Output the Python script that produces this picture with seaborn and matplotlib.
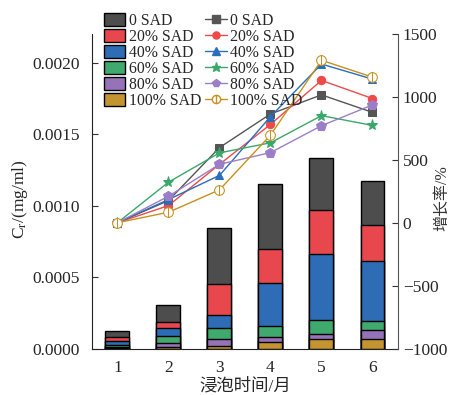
import numpy as np
import pandas as pd
import matplotlib
matplotlib.use("Agg")
import matplotlib.pyplot as plt
from matplotlib.patches import Patch
from matplotlib.lines import Line2D
from matplotlib.path import Path
import seaborn as sns

# data
months = [1, 2, 3, 4, 5, 6]
labels = ["0 SAD", "20% SAD", "40% SAD", "60% SAD", "80% SAD", "100% SAD"]

# Cr (mg/ml) per group, stacked bars
cr_0 = [0.000044, 0.000118, 0.000389, 0.000454, 0.000359, 0.000313]
cr_20 = [0.000026, 0.000040, 0.000220, 0.000241, 0.000313, 0.000252]
cr_40 = [0.000030, 0.000056, 0.000088, 0.000301, 0.000463, 0.000419]
cr_60 = [0.000014, 0.000051, 0.000074, 0.000076, 0.000095, 0.000063]
cr_80 = [0.000004, 0.000026, 0.000051, 0.000035, 0.000032, 0.000060]
cr_100 = [0.000004, 0.000012, 0.000018, 0.000046, 0.000069, 0.000067]

# growth rate (%)
gr_0 = [0, 176, 597, 864, 1016, 877]
gr_20 = [0, 136, 464, 781, 1131, 987]
gr_40 = [0, 184, 376, 843, 1261, 1141]
gr_60 = [0, 322, 555, 635, 851, 773]
gr_80 = [0, 210, 464, 557, 771, 936]
gr_100 = [0, 83, 261, 696, 1291, 1157]

bar_colors = ["#4d4d4d", "#e8474e", "#2e6db5", "#3fa96e", "#9673b9", "#c49431"]
line_colors = ["#555555", "#ef4a4a", "#2a6ebb", "#3aa86b", "#9b7ec8", "#c8901f"]

sns.set_style("ticks")
plt.rcParams['font.family'] = ['Liberation Serif', 'Noto Sans CJK SC', 'DejaVu Sans']
plt.rcParams['mathtext.fontset'] = 'stix'
plt.rcParams['axes.unicode_minus'] = True

fig = plt.figure(figsize=(4.52, 3.95), dpi=100)
ax = fig.add_axes([0.2035, 0.1177, 0.677, 0.7963])

# stacked bars: draw cumulative totals from top group down
cr_all = [cr_0, cr_20, cr_40, cr_60, cr_80, cr_100]
bottom_up = cr_all[::-1]
cum = np.cumsum(np.array(bottom_up), axis=0)
cols_bottom_up = bar_colors[::-1]
for i in range(len(cum) - 1, -1, -1):
    df = pd.DataFrame({"month": months, "cr": cum[i]})
    sns.barplot(data=df, x="month", y="cr", native_scale=True, color=cols_bottom_up[i],
                saturation=1, width=0.47, edgecolor="black", linewidth=1,
                errorbar=None, ax=ax)

ax.set_xlim(0.5, 6.5)
ax.set_ylim(0, 0.0022)
ax.set_xticks(months)
ax.set_xticklabels([str(m) for m in months])
ax.set_yticks([0, 0.0005, 0.0010, 0.0015, 0.0020])
ax.set_yticklabels(["0.0000", "0.0005", "0.0010", "0.0015", "0.0020"])
ax.set_xlabel("浸泡时间/月", fontsize=12.5)
ax.set_ylabel(r"C$_\mathrm{r}$/(mg/ml)", fontsize=12.5)
ax.xaxis.set_label_coords(0.5, -0.095)
ax.yaxis.set_label_coords(-0.202, 0.475)
ax.tick_params(direction="in", labelsize=12.5, length=4, color="#333333")
ax.tick_params(axis="x", pad=8)
ax.tick_params(axis="y", pad=9)
ax.spines["top"].set_visible(False)
ax.spines["right"].set_visible(False)
for s in ["left", "bottom"]:
    ax.spines[s].set_color("#222222")

# growth-rate lines on the right axis
ax2 = ax.twinx()
circ = Path.unit_circle()
bar_line = Path([[0, -1], [0, 1]], [Path.MOVETO, Path.LINETO])
ring_mark = Path.make_compound_path(circ, bar_line)
markers = ["s", "o", "^", "*", "p", ring_mark]
msizes = [6, 6, 6, 8, 7, 7]
gr_all = [gr_0, gr_20, gr_40, gr_60, gr_80, gr_100]
for g, lab, c, m, ms in zip(gr_all, labels, line_colors, markers, msizes):
    df = pd.DataFrame({"month": months, "gr": g})
    sns.lineplot(data=df, x="month", y="gr", color=c, marker=m, markersize=ms,
                 markeredgecolor=c, markerfacecolor=("white" if m is ring_mark else c),
                 linewidth=1, ax=ax2, legend=False)
ax2.set_ylim(-1000, 1500)
ax2.set_yticks([-1000, -500, 0, 500, 1000, 1500])
ax2.set_ylabel("")
ax2.set_xlabel("")
fig.text(442 / 452, 1 - 198 / 395, "增长率/%", rotation=90, ha="center", va="center",
         fontsize=11.5, color="#333333")
ax2.tick_params(direction="in", labelsize=12.5, length=4, color="#333333")
ax2.spines["top"].set_visible(False)
ax2.spines["left"].set_visible(False)
ax2.spines["bottom"].set_visible(False)
ax2.spines["right"].set_color("#555555")
ax2.set_xlim(0.5, 6.5)

# legends
bar_handles = [Patch(facecolor=c, edgecolor="black", linewidth=1) for c in bar_colors]
leg1 = fig.legend(bar_handles, labels, loc="upper left", bbox_to_anchor=(0.229, 0.968),
                  frameon=False, fontsize=11.3, handlelength=1.4, handleheight=0.9,
                  handletextpad=0.2, labelspacing=0.0, borderaxespad=0, borderpad=0)
line_handles = [Line2D([0], [0], color=c, marker=m, markersize=ms * 0.85, lw=1,
                       markeredgecolor=c, markerfacecolor=("white" if m is ring_mark else c))
                for c, m, ms in zip(line_colors, markers, msizes)]
leg2 = fig.legend(line_handles, labels, loc="upper left", bbox_to_anchor=(0.453, 0.968),
                  frameon=False, fontsize=11.3, handlelength=1.4, handleheight=0.9,
                  handletextpad=0.2, labelspacing=0.0, borderaxespad=0, borderpad=0)

fig.savefig("out.png", dpi=100)
